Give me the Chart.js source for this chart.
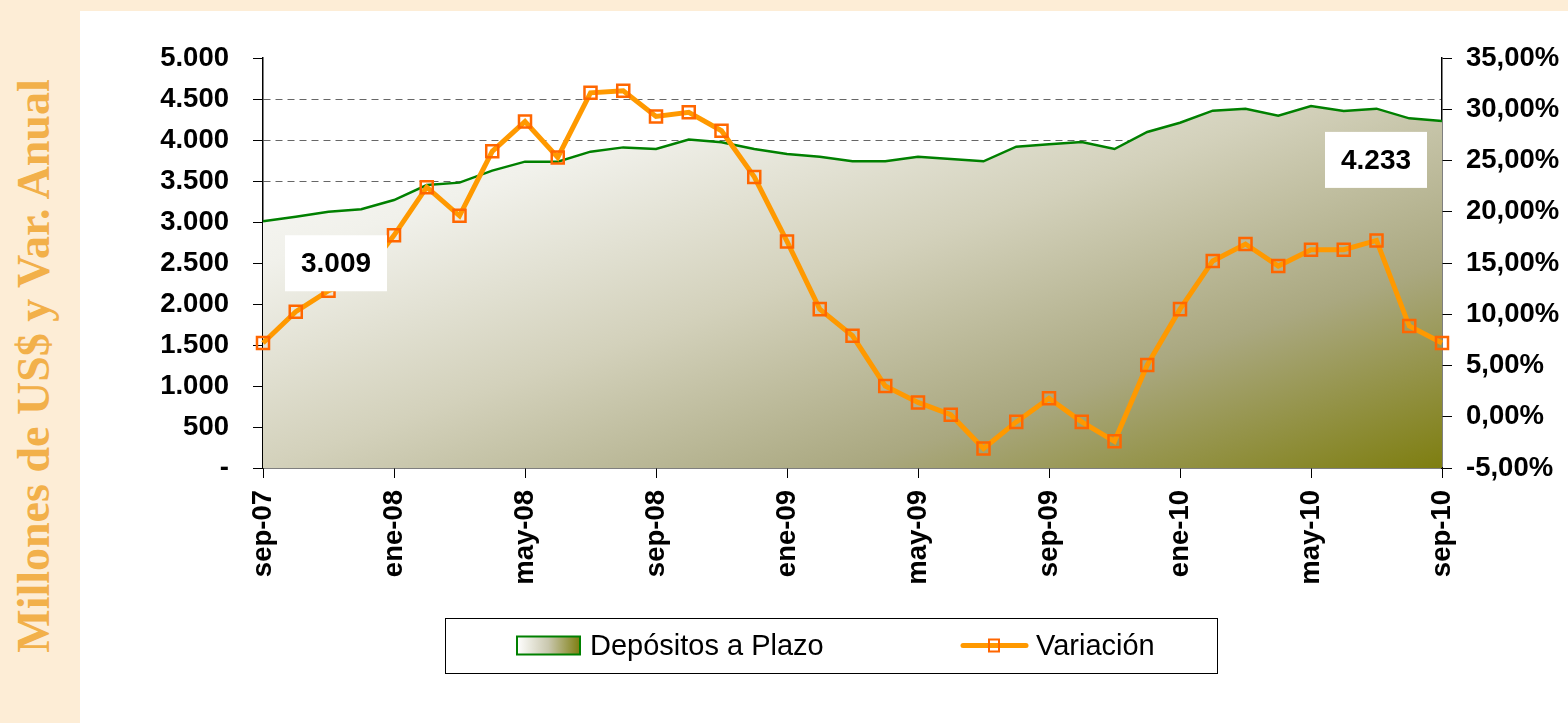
<!DOCTYPE html>
<html>
<head>
<meta charset="utf-8">
<script src="https://cdn.jsdelivr.net/npm/chart.js@4.4.1/dist/chart.umd.min.js"></script>
<style>
    html, body { margin: 0; padding: 0; }
    body {
        width: 1568px;
        height: 723px;
        background: #fdedd6;
        position: relative;
        overflow: hidden;
        font-family: "Liberation Sans", Arial, sans-serif;
    }
    #panel {
        position: absolute;
        left: 80px;
        top: 11px;
        width: 1488px;
        height: 712px;
        background: #ffffff;
    }
    #side-title {
        position: absolute;
        left: 33px;
        top: 366px;
        transform: translate(-50%, -50%) rotate(-90deg);
        white-space: nowrap;
        font-family: "Liberation Serif", "Times New Roman", serif;
        font-weight: bold;
        font-size: 46px;
        color: #f2b04a;
    }
</style>
</head>
<body>
<div id="side-title">Millones de US$ y Var. Anual</div>
<div id="panel"><canvas id="chart" width="1488" height="712"></canvas></div>
<script>
// months sep-07 .. sep-10
const months = [
    'sep-07', 'oct-07', 'nov-07', 'dic-07', 'ene-08', 'feb-08', 'mar-08', 'abr-08',
    'may-08', 'jun-08', 'jul-08', 'ago-08', 'sep-08', 'oct-08', 'nov-08', 'dic-08',
    'ene-09', 'feb-09', 'mar-09', 'abr-09', 'may-09', 'jun-09', 'jul-09', 'ago-09',
    'sep-09', 'oct-09', 'nov-09', 'dic-09', 'ene-10', 'feb-10', 'mar-10', 'abr-10',
    'may-10', 'jun-10', 'jul-10', 'ago-10', 'sep-10'
];

// Depósitos a Plazo, millones de US$
const depositos = [
    3009, 3065, 3126, 3155, 3268, 3451, 3480, 3626,
    3736, 3736, 3858, 3910, 3890, 4005, 3972, 3890,
    3829, 3797, 3740, 3740, 3797, 3768, 3740, 3919,
    3947, 3976, 3890, 4098, 4211, 4358, 4382, 4297,
    4415, 4354, 4382, 4264, 4233
];

// Variación anual, %
const variacion = [
    7.2, 10.25, 12.3, 13.5, 17.7, 22.4, 19.6, 25.9,
    28.8, 25.3, 31.6, 31.8, 29.3, 29.7, 27.9, 23.4,
    17.1, 10.5, 7.9, 3.0, 1.4, 0.2, -3.1, -0.5,
    1.8, -0.5, -2.4, 5.05, 10.5, 15.2, 16.85, 14.7,
    16.3, 16.3, 17.2, 8.85, 7.2
];

const leftTicks = [0, 500, 1000, 1500, 2000, 2500, 3000, 3500, 4000, 4500, 5000];
const rightTicks = [-5, 0, 5, 10, 15, 20, 25, 30, 35];

const tickFont = { family: '"Liberation Sans", Arial, sans-serif', size: 27.5, weight: 'bold' };

function miles(v) {
    return String(Math.round(v)).replace(/\B(?=(\d{3})+(?!\d))/g, '.');
}

function areaGradient(ctx, area) {
    // diagonal "from corner" fill, white top-left to olive bottom-right
    const w = area.right - area.left;
    const h = area.bottom - area.top;
    const t = 2 * w * h / (w * w + h * h);
    const g = ctx.createLinearGradient(area.left, area.top, area.left + t * h, area.top + t * w);
    g.addColorStop(0, '#ffffff');
    g.addColorStop(0.25, '#f1f1eb');
    g.addColorStop(0.5, '#d3d1bb');
    g.addColorStop(0.75, '#aaa880');
    g.addColorStop(1, '#7e7e10');
    return g;
}

// white boxes with first / last values
const valueBoxes = {
    id: 'valueBoxes',
    afterDatasetsDraw(chart) {
        const meta = chart.getDatasetMeta(1);
        const first = meta.data[0];
        const last = meta.data[meta.data.length - 1];
        const ctx = chart.ctx;
        const boxes = [
            { x: first.x + 22, y: first.y + 14, text: miles(depositos[0]) },
            { x: last.x - 117, y: last.y + 11, text: miles(depositos[depositos.length - 1]) }
        ];
        ctx.save();
        ctx.font = 'bold 28px "Liberation Sans", Arial, sans-serif';
        ctx.textAlign = 'center';
        ctx.textBaseline = 'middle';
        boxes.forEach(b => {
            ctx.fillStyle = '#ffffff';
            ctx.fillRect(b.x, b.y, 102, 56);
            ctx.fillStyle = '#000000';
            ctx.fillText(b.text, b.x + 51, b.y + 29);
        });
        ctx.restore();
    }
};

// boxed legend under the axis labels
const boxLegend = {
    id: 'boxLegend',
    afterDraw(chart) {
        const ctx = chart.ctx;
        const x0 = 365, y0 = 607, w = 772, h = 55;
        const cy = y0 + h / 2;
        ctx.save();
        ctx.fillStyle = '#ffffff';
        ctx.fillRect(x0, y0, w, h);
        ctx.strokeStyle = '#000000';
        ctx.lineWidth = 1;
        ctx.strokeRect(x0 + 0.5, y0 + 0.5, w, h);

        // area swatch
        const sg = ctx.createLinearGradient(437, 0, 500, 0);
        sg.addColorStop(0, '#ffffff');
        sg.addColorStop(0.5, '#c9c7ae');
        sg.addColorStop(1, '#7e7e10');
        ctx.fillStyle = sg;
        ctx.fillRect(437, cy - 9, 63, 18);
        ctx.strokeStyle = '#008000';
        ctx.lineWidth = 2;
        ctx.strokeRect(437, cy - 9, 63, 18);

        // line swatch
        ctx.strokeStyle = '#ff9900';
        ctx.lineWidth = 5;
        ctx.lineCap = 'round';
        ctx.beginPath();
        ctx.moveTo(883, cy);
        ctx.lineTo(946, cy);
        ctx.stroke();
        ctx.strokeStyle = '#ff6600';
        ctx.lineWidth = 2;
        ctx.strokeRect(909, cy - 6, 10, 12);

        ctx.fillStyle = '#000000';
        ctx.font = '29px "Liberation Sans", Arial, sans-serif';
        ctx.textBaseline = 'middle';
        ctx.textAlign = 'left';
        ctx.fillText('Depósitos a Plazo', 510, cy + 1);
        ctx.fillText('Variación', 956, cy + 1);
        ctx.restore();
    }
};

new Chart(document.getElementById('chart'), {
    data: {
        labels: months,
        datasets: [
            {
                type: 'line',
                label: 'Variación',
                data: variacion,
                yAxisID: 'y1',
                order: 1,
                borderColor: '#ff9900',
                borderWidth: 5,
                tension: 0,
                fill: false,
                pointStyle: 'rect',
                pointRadius: 8.5,
                pointBorderWidth: 2.5,
                pointBorderColor: '#ff6600',
                pointBackgroundColor: 'rgba(255,255,255,0)'
            },
            {
                type: 'line',
                label: 'Depósitos a Plazo',
                data: depositos,
                yAxisID: 'y',
                order: 2,
                borderColor: '#008000',
                borderWidth: 2.5,
                tension: 0,
                pointRadius: 0,
                fill: 'origin',
                backgroundColor: (c) => {
                    const area = c.chart.chartArea;
                    if (!area) return '#cfcdb6';
                    return areaGradient(c.chart.ctx, area);
                }
            }
        ]
    },
    options: {
        responsive: false,
        animation: false,
        layout: { padding: { top: 47, left: 0, right: 0, bottom: 0 } },
        plugins: {
            legend: { display: false },
            tooltip: { enabled: false }
        },
        scales: {
            x: {
                type: 'category',
                offset: false,
                afterFit: s => { s.height = 255; },
                grid: { drawOnChartArea: false, tickColor: '#000', tickLength: 10 },
                border: { color: '#000', width: 1.5 },
                ticks: {
                    autoSkip: false,
                    maxRotation: 90,
                    minRotation: 90,
                    padding: 12,
                    color: '#000',
                    font: tickFont,
                    callback: function (val, index) {
                        return index % 4 === 0 ? this.getLabelForValue(val) : null;
                    }
                }
            },
            y: {
                position: 'left',
                min: leftTicks[0],
                max: leftTicks[leftTicks.length - 1],
                afterFit: s => { s.width = 183; },
                afterBuildTicks: s => { s.ticks = leftTicks.map(v => ({ value: v })); },
                grid: {
                    color: c => (c.tick && c.tick.value > 0 && c.tick.value < 5000) ? '#666666' : 'rgba(0,0,0,0)',
                    lineWidth: 1,
                    tickColor: '#000',
                    tickLength: 10
                },
                border: { color: '#000', width: 1.5, dash: [7, 5] },
                ticks: {
                    padding: 24,
                    color: '#000',
                    font: tickFont,
                    callback: v => v === 0 ? '-' : miles(v)
                }
            },
            y1: {
                position: 'right',
                min: rightTicks[0],
                max: rightTicks[rightTicks.length - 1],
                afterFit: s => { s.width = 126; },
                afterBuildTicks: s => { s.ticks = rightTicks.map(v => ({ value: v })); },
                grid: { drawOnChartArea: false, tickColor: '#000', tickLength: 10 },
                border: { color: '#000', width: 1.5 },
                ticks: {
                    padding: 14,
                    color: '#000',
                    font: tickFont,
                    callback: v => v.toFixed(2).replace('.', ',') + '%'
                }
            }
        }
    },
    plugins: [valueBoxes, boxLegend]
});
</script>
</body>
</html>
